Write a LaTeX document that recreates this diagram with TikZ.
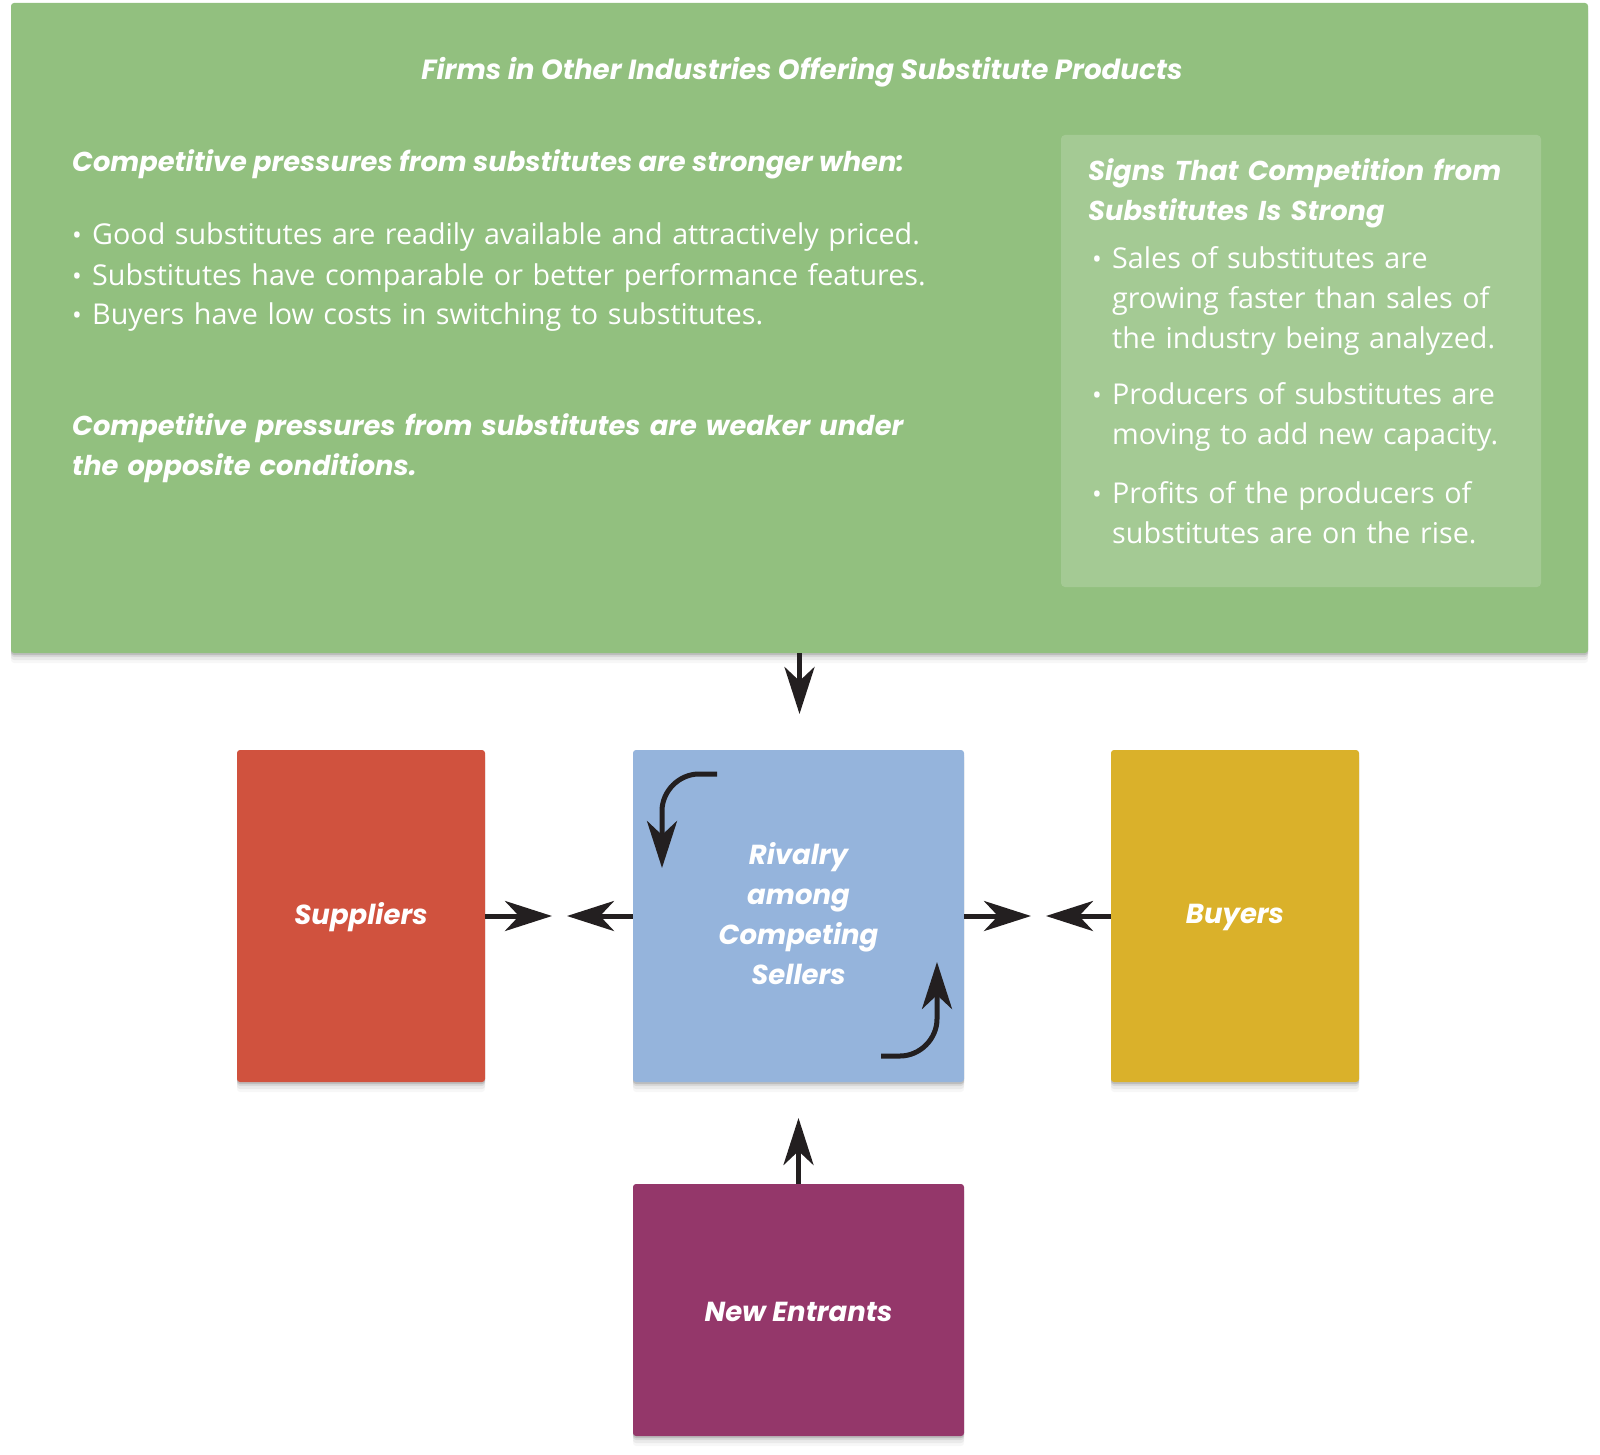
\documentclass[tikz,border=0pt]{standalone}
\usepackage{fontspec}
\setmainfont{Open Sans}
\newfontfamily\headfont{Poppins}
\usetikzlibrary{arrows.meta,shadows}
\definecolor{greenbg}{RGB}{146,192,127}
\definecolor{greenin}{RGB}{164,202,148}
\definecolor{supc}{RGB}{208,82,62}
\definecolor{rivc}{RGB}{149,180,220}
\definecolor{buyc}{RGB}{218,177,42}
\definecolor{newc}{RGB}{148,55,106}
\definecolor{arrowc}{RGB}{35,31,32}
\tikzset{
  softshadow/.style={
    drop shadow={shadow xshift=0pt, shadow yshift=-2pt, opacity=.12, fill=black},
    drop shadow={shadow xshift=0pt, shadow yshift=-4pt, opacity=.08, fill=black},
    drop shadow={shadow xshift=0pt, shadow yshift=-7pt, opacity=.05, fill=black},
    drop shadow={shadow xshift=0pt, shadow yshift=-10pt, opacity=.03, fill=black}},
  box/.style={rectangle, rounded corners=3pt, inner sep=0pt, softshadow},
  boxlabel/.style={text=white, font=\headfont\bfseries\itshape\fontsize{27.5}{40}\selectfont},
  body/.style={text=white, font=\fontsize{28.7}{40}\selectfont, inner sep=0pt},
  head/.style={text=white, font=\headfont\bfseries\itshape\fontsize{27.3}{40}\selectfont, inner sep=0pt},
  arr/.style={draw=arrowc, line width=5pt, -{Stealth[length=47pt, width=30pt, inset=14pt]}},
}
\newcommand{\bulmark}{\makebox[20pt][l]{\raisebox{0pt}{\fontsize{26}{26}\selectfont •}}}
\begin{document}
\begin{tikzpicture}[x=1pt, y=-1pt]
\useasboundingbox (0,0) rectangle (1600,1455);

% main boxes
\node[box, fill=greenbg, minimum width=1577pt, minimum height=650pt] (green) at (799.5,328) {};
\node[rectangle, rounded corners=4pt, fill=greenin, minimum width=480pt, minimum height=452pt, inner sep=0pt] (inner) at (1301,361) {};

\node[box, fill=supc, minimum width=248pt, minimum height=332pt] (sup) at (361,916) {};
\node[box, fill=rivc, minimum width=331pt, minimum height=332pt] (riv) at (798.5,916) {};
\node[box, fill=buyc, minimum width=248pt, minimum height=332pt] (buy) at (1235,916) {};
\node[box, fill=newc, minimum width=331pt, minimum height=252pt] (new) at (798.5,1310) {};

% title
\node[head, font=\headfont\bfseries\itshape\fontsize{27.7}{30}\selectfont, anchor=base] (title) at (802,80) {Firms in Other Industries Offering Substitute Products};

% left text
\node[head, anchor=base west] (h1) at (72,172) {Competitive pressures from substitutes are stronger when:};
\node[body, anchor=base west, text width=900pt, align=left] (b1) at (72,245)
  {\bulmark Good substitutes are readily available and attractively priced.\\
   \bulmark Substitutes have comparable or better performance features.\\
   \bulmark Buyers have low costs in switching to substitutes.};
\node[head, anchor=base west, text width=900pt, align=left] (h2) at (72,435)
  {Competitive pressures from substitutes are weaker under\\ the opposite conditions.};

% inner box text
\node[head, anchor=base west, text width=460pt, align=left] (h3) at (1088,181)
  {Signs That Competition from\\ Substitutes Is Strong};
\node[body, anchor=base west, text width=460pt, align=left] (s1) at (1092,269)
  {\bulmark Sales of substitutes are\\ \hspace*{20pt}growing faster than sales of\\ \hspace*{20pt}the industry being analyzed.};
\node[body, anchor=base west, text width=460pt, align=left] (s2) at (1092,404)
  {\bulmark Producers of substitutes are\\ \hspace*{20pt}moving to add new capacity.};
\node[body, anchor=base west, text width=460pt, align=left] (s3) at (1092,503)
  {\bulmark Profits of the producers of\\ \hspace*{20pt}substitutes are on the rise.};

% box labels
\node[boxlabel] (supl) at (361,917) {Suppliers};
\node[boxlabel] (buyl) at (1235,917) {Buyers};
\node[boxlabel] (newl) at (798.5,1312) {New Entrants};
\node[boxlabel, anchor=base, text width=300pt, align=center] (rivl) at (798.5,864)
  {Rivalry\\ among\\ Competing\\ Sellers};

% arrow tips
\coordinate (t1) at (552,916);
\coordinate (t2) at (567,916);
\coordinate (t3) at (1031,916);
\coordinate (t4) at (1046,916);
\coordinate (t5) at (799.5,714);
\coordinate (t6) at (798.5,1118);
\coordinate (c1) at (717,774);
\coordinate (c2) at (662,868);
\coordinate (c3) at (881,1056);
\coordinate (c4) at (937,962);

\draw[arr] (sup.east) -- (t1);
\draw[arr] (riv.west) -- (t2);
\draw[arr] (riv.east) -- (t3);
\draw[arr] (buy.west) -- (t4);
\draw[arr] (green.south) -- (t5);
\draw[arr] (new.north) -- (t6);
\draw[arr] (c1) -- (699,774) .. controls (679,774) and (662,791) .. (662,811) -- (c2);
\draw[arr] (c3) -- (900,1056) .. controls (920,1056) and (937,1039) .. (937,1019) -- (c4);
\end{tikzpicture}
\end{document}
